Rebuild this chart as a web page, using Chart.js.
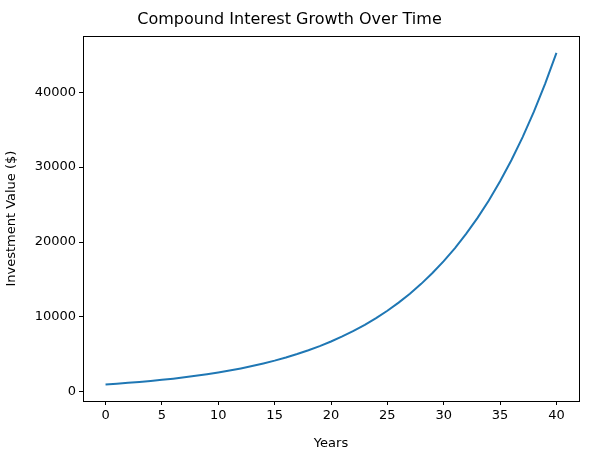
<!DOCTYPE html>
<html>
<head>
<meta charset="utf-8">
<script src="https://cdn.jsdelivr.net/npm/chart.js@4"></script>
<style>
html, body { margin: 0; padding: 0; background: #fff; }
#wrap { width: 589px; height: 455px; }
</style>
</head>
<body>
<div id="wrap"><canvas id="myChart" width="589" height="455"></canvas></div>
<script>
const years = [0,1,2,3,4,5,6,7,8,9,10,11,12,13,14,15,16,17,18,19,20,21,22,23,24,25,26,27,28,29,30,31,32,33,34,35,36,37,38,39,40];
const values = [1000,1100,1210,1331,1464,1611,1772,1949,2144,2358,2594,2853,3138,3452,3797,4177,4595,5054,5560,6116,6727,7400,8140,8954,9850,10835,11918,13110,14421,15863,17449,19194,21114,23225,25548,28102,30913,34004,37404,41145,45259];
const xTicks = [0,5,10,15,20,25,30,35,40];
const yTicks = [0,10000,20000,30000,40000];

const frame = {
    id: 'frame',
    afterDraw(chart) {
        const a = chart.chartArea, ctx = chart.ctx;
        ctx.save();
        ctx.strokeStyle = '#000';
        ctx.lineWidth = 1;
        ctx.strokeRect(Math.round(a.left) + 0.5, Math.round(a.top) + 0.5, Math.round(a.right - a.left), Math.round(a.bottom - a.top));
        ctx.restore();
    }
};

const font = { family: 'DejaVu Sans', size: 13 };
new Chart(document.getElementById('myChart'), {
    type: 'line',
    data: {
        datasets: [{
            data: years.map((y, i) => ({ x: y, y: values[i] })),
            borderColor: '#1f77b4',
            borderWidth: 2,
            pointRadius: 0,
            tension: 0
        }]
    },
    options: {
        responsive: false,
        animation: false,
        layout: { padding: { left: 0, right: 10, top: 0, bottom: 0 } },
        plugins: {
            legend: { display: false },
            tooltip: { enabled: false },
            title: {
                display: true,
                text: 'Compound Interest Growth Over Time',
                color: '#000',
                font: { family: 'DejaVu Sans', size: 16, weight: 'normal' },
                padding: { top: 10, bottom: 7 }
            }
        },
        scales: {
            x: {
                type: 'linear',
                min: -2, max: 42,
                afterBuildTicks(s) { s.ticks = xTicks.map(v => ({ value: v })); },
                afterFit(s) { s.height = 54; },
                grid: { drawOnChartArea: false, tickLength: 4, color: '#000' },
                border: { display: false },
                ticks: { color: '#000', font, padding: 3, maxRotation: 0 },
                title: { display: true, text: 'Years', color: '#000', font, padding: { top: 2 } }
            },
            y: {
                min: -1213, max: 47472,
                afterBuildTicks(s) { s.ticks = yTicks.map(v => ({ value: v })); },
                afterFit(s) { s.width = 83; },
                grid: { drawOnChartArea: false, tickLength: 4, color: '#000' },
                border: { display: false },
                ticks: { color: '#000', font, padding: 3, callback: v => String(v) },
                title: { display: true, text: 'Investment Value ($)', color: '#000', font, padding: { bottom: 4 } }
            }
        }
    },
    plugins: [frame]
});
</script>
</body>
</html>
